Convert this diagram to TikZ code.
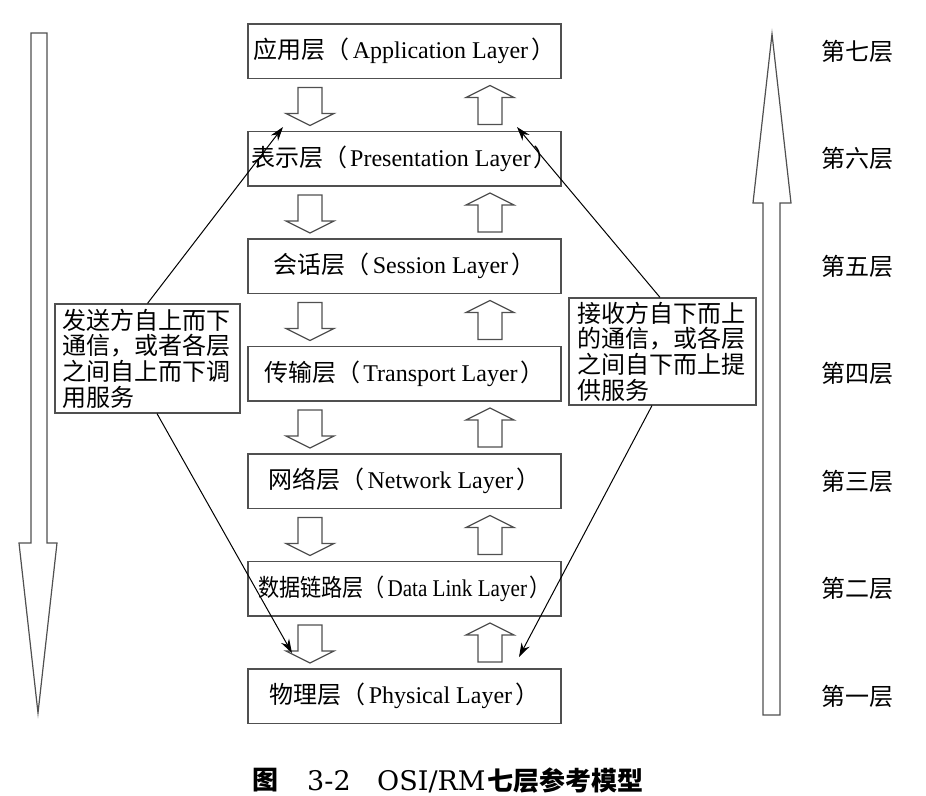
\documentclass[tikz,border=0pt]{standalone}
\usepackage{fontspec}
\setmainfont{Liberation Serif}
\newfontfamily\cjk{Noto Sans CJK SC}
\newfontfamily\capserif{DejaVu Serif}
\usetikzlibrary{arrows.meta}
\definecolor{linegray}{RGB}{80,80,80}
\newcommand{\layertext}[2]{{\cjk #1（}\hspace{3pt}#2\hspace{3pt}{\cjk ）}}
\newcommand{\downblk}[1]{%
  \draw[blockarrow] (298,#1+9) -- (322,#1+9) -- (322,#1+35) -- (334,#1+35) -- (310,#1+47) -- (286,#1+35) -- (298,#1+35) -- cycle;}
\newcommand{\upblk}[1]{%
  \draw[blockarrow] (478,#1+46) -- (502,#1+46) -- (502,#1+19) -- (514,#1+19) -- (490,#1+7) -- (466,#1+19) -- (478,#1+19) -- cycle;}
\begin{document}
\begin{tikzpicture}[x=1pt,y=-1pt,
  layerbox/.style={draw=linegray, line width=1.3pt, minimum width=313pt, minimum height=54.5pt, inner sep=0pt, font=\fontsize{24}{28}\selectfont},
  blockarrow/.style={draw=linegray, line width=1.2pt, fill=white, line join=miter},
  notebox/.style={draw=linegray, line width=1.2pt, inner ysep=0pt, font=\fontsize{24}{25.6}\selectfont\cjk, align=left, text width=170pt},
  link/.style={draw=black, line width=1pt, -{Stealth[length=14pt,width=9pt]}},
  levellabel/.style={font=\fontsize{24}{28}\selectfont\cjk, inner sep=0pt},
  captioncjk/.style={anchor=base west, inner sep=0pt, font=\fontsize{26}{30}\selectfont\cjk\bfseries},
  captionlat/.style={anchor=base west, inner sep=0pt, font=\fontsize{27}{30}\selectfont\capserif}
]
\useasboundingbox (0,0) rectangle (926,795);

% big side arrows
\draw[blockarrow] (31,33) -- (47,33) -- (47,543) -- (57,543) -- (38,713) -- (19,543) -- (31,543) -- cycle;
\draw[blockarrow] (763,715) -- (780,715) -- (780,203) -- (791,203) -- (772,34) -- (753,203) -- (763,203) -- cycle;

% layer boxes
\node[layerbox] (app)  at (404.5, 51.25)  {\layertext{应用层}{Application Layer}};
\node[layerbox] (pres) at (404.5, 158.75) {\layertext{表示层}{Presentation Layer}};
\node[layerbox] (sess) at (404.5, 266.25) {\layertext{会话层}{Session Layer}};
\node[layerbox] (trans) at (404.5, 373.75) {\layertext{传输层}{Transport Layer}};
\node[layerbox] (net)  at (404.5, 481.25) {\layertext{网络层}{Network Layer}};
\node[layerbox] (dl)   at (404.5, 588.75) {\scalebox{0.88}[1]{\layertext{数据链路层}{Data Link Layer}}};
\node[layerbox] (phy)  at (404.5, 696.25) {\layertext{物理层}{Physical Layer}};

% small block arrows between layers
\foreach \b in {78.5,186,293.5,401,508.5,616}{\downblk{\b}\upblk{\b}}

% level labels
\node[levellabel] (l7) at (857, 51.25)  {第七层};
\node[levellabel] (l6) at (857, 158.75) {第六层};
\node[levellabel] (l5) at (857, 266.25) {第五层};
\node[levellabel] (l4) at (857, 373.75) {第四层};
\node[levellabel] (l3) at (857, 481.25) {第三层};
\node[levellabel] (l2) at (857, 588.75) {第二层};
\node[levellabel] (l1) at (857, 696.25) {第一层};

% note boxes
\node[notebox, inner xsep=7.5pt, minimum height=109pt] (lbox) at (147.5, 358.5)
  {发送方自上而下\\通信，或者各层\\之间自上而下调\\用服务};
\node[notebox, inner xsep=8.5pt, minimum height=107pt] (rbox) at (662.5, 351.5)
  {接收方自下而上\\的通信，或各层\\之间自下而上提\\供服务};

% connector end points
\coordinate (tUpL) at (283,127);
\coordinate (tDnL) at (292,653);
\coordinate (tUpR) at (517,127);
\coordinate (tDnR) at (519,657);
\draw[link] (lbox.north) -- (tUpL);
\draw[link] ([xshift=9.5pt]lbox.south) -- (tDnL);
\draw[link] ([xshift=-2.5pt]rbox.north) -- (tUpR);
\draw[link] ([xshift=-10.5pt]rbox.south) -- (tDnR);

% caption
\node[captioncjk] (capfig) at (252,789) {图};
\node[captionlat] (capnum) at (307,790) {3-2};
\node[captionlat] (caposi) at (377,790) {OSI/RM};
\node[captioncjk] (captitle) at ([xshift=2pt]caposi.base east) {七层参考模型};
\end{tikzpicture}
\end{document}
